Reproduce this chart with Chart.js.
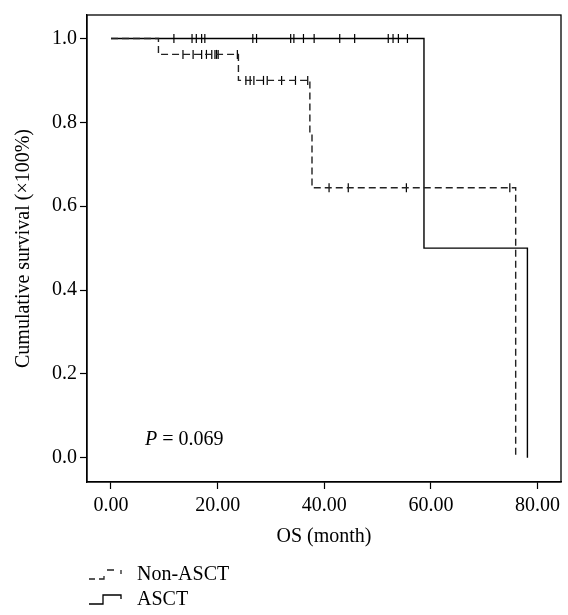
<!DOCTYPE html>
<html lang="en">
<head>
<meta charset="UTF-8">
<title>OS by ASCT</title>
<script src="https://cdn.jsdelivr.net/npm/chart.js"></script>
<style>
  body { margin: 0; background: #fff; }
  #wrap { width: 568px; height: 615px; }
</style>
</head>
<body>
<div id="wrap"><canvas id="km"></canvas></div>
<script>
// Kaplan-Meier step points (time in months, cumulative survival)
const asctTimes = [0, 58.7, 78.1];
const asctSurv = [1.0, 0.5, 0.0];
const nonTimes = [0, 8.9, 23.9, 37.3, 37.7, 75.9];
const nonSurv = [1.0, 0.962, 0.9, 0.773, 0.644, 0.0];

// censored observations
const asctCensor = [11.8, 15.2, 16.0, 17.0, 17.6, 26.6, 27.3, 33.7, 34.3, 36.1, 38.1,
                    42.9, 45.7, 52.0, 52.9, 53.9, 55.6];
const nonCensor = [13.5, 15.4, 17.0, 17.9, 18.9, 19.5, 19.8, 20.1, 23.7,
                   25.3, 26.1, 26.8, 28.6, 29.3, 32.0, 34.6, 36.9,
                   40.9, 44.5, 55.4, 74.8];

const xTicks = [0, 20, 40, 60, 80];
const yTicks = [0, 0.2, 0.4, 0.6, 0.8, 1.0];
const groupNames = ['Non-ASCT', 'ASCT'];
const pLabel = '0.069';

const serif = '"Liberation Serif", "DejaVu Serif", serif';
const fs = 20;

// survival value of a step curve at time t
function survAt(times, surv, t) {
  let s = surv[0];
  for (let i = 0; i < times.length; i++) {
    if (times[i] <= t) s = surv[i];
  }
  return s;
}

const toPts = (times, surv) => times.map((t, i) => ({ x: t, y: surv[i] }));
const censorPts = (c, times, surv) => c.map(t => ({ x: t, y: survAt(times, surv, t) }));

const decor = {
  id: 'decor',
  afterDraw(chart) {
    const { ctx, chartArea: a } = chart;
    ctx.save();
    // frame
    ctx.strokeStyle = '#000';
    ctx.lineWidth = 1.3;
    ctx.strokeRect(a.left, a.top, a.right - a.left, a.bottom - a.top);

    // p value
    ctx.fillStyle = '#000';
    ctx.textBaseline = 'middle';
    ctx.font = 'italic ' + fs + 'px ' + serif;
    ctx.fillText('P', 145, 440);
    const pw = ctx.measureText('P').width;
    ctx.font = fs + 'px ' + serif;
    ctx.fillText(' = ' + pLabel, 145 + pw, 440);

    // legend
    const ly = [575, 600];
    ctx.fillText(groupNames[0], 137, ly[0]);
    ctx.fillText(groupNames[1], 137, ly[1]);

    ctx.lineWidth = 1.3;
    ctx.strokeStyle = '#222';
    ctx.beginPath();
    ctx.moveTo(89, ly[0] + 4); ctx.lineTo(95, ly[0] + 4);
    ctx.moveTo(99, ly[0] + 4); ctx.lineTo(104, ly[0] + 4);
    ctx.lineTo(104, ly[0] + 1);
    ctx.moveTo(107, ly[0] - 5); ctx.lineTo(114, ly[0] - 5);
    ctx.moveTo(121, ly[0] - 5); ctx.lineTo(121, ly[0] - 1);
    ctx.stroke();

    ctx.strokeStyle = '#000';
    ctx.beginPath();
    ctx.moveTo(89, ly[1] + 4); ctx.lineTo(103, ly[1] + 4);
    ctx.lineTo(103, ly[1] - 5); ctx.lineTo(121, ly[1] - 5);
    ctx.lineTo(121, ly[1] - 1);
    ctx.stroke();
    ctx.restore();
  }
};

new Chart(document.getElementById('km'), {
  type: 'scatter',
  data: {
    datasets: [
      {
        label: groupNames[0],
        data: toPts(nonTimes, nonSurv),
        showLine: true,
        stepped: true,
        borderColor: '#222',
        borderWidth: 1.4,
        borderDash: [7, 4],
        pointRadius: 0
      },
      {
        label: groupNames[1],
        data: toPts(asctTimes, asctSurv),
        showLine: true,
        stepped: true,
        borderColor: '#000',
        borderWidth: 1.4,
        pointRadius: 0
      },
      {
        label: groupNames[0] + ' censored',
        data: censorPts(nonCensor, nonTimes, nonSurv),
        showLine: false,
        pointStyle: 'line',
        rotation: 90,
        pointRadius: 4.5,
        borderWidth: 1.2,
        borderColor: '#000'
      },
      {
        label: groupNames[1] + ' censored',
        data: censorPts(asctCensor, asctTimes, asctSurv),
        showLine: false,
        pointStyle: 'line',
        rotation: 90,
        pointRadius: 4.5,
        borderWidth: 1.2,
        borderColor: '#000'
      }
    ]
  },
  options: {
    responsive: true,
    maintainAspectRatio: false,
    animation: false,
    layout: { padding: { top: 7, right: 7, left: 0, bottom: 63 } },
    plugins: {
      legend: { display: false },
      tooltip: { enabled: false }
    },
    scales: {
      x: {
        type: 'linear',
        min: -4.5,
        max: 84.4,
        afterBuildTicks: s => { s.ticks = xTicks.map(v => ({ value: v })); },
        afterFit: s => { s.height = 70; },
        ticks: {
          callback: v => v.toFixed(2),
          color: '#000',
          padding: 5,
          maxRotation: 0,
          font: { family: serif, size: fs }
        },
        grid: { drawOnChartArea: false, tickLength: 7, color: '#000', tickWidth: 1.2 },
        border: { color: '#000', width: 1.3 },
        title: {
          display: true,
          text: 'OS (month)',
          color: '#000',
          padding: { top: 0, bottom: 3 },
          font: { family: serif, size: fs }
        }
      },
      y: {
        type: 'linear',
        min: -0.058,
        max: 1.056,
        afterBuildTicks: s => { s.ticks = yTicks.map(v => ({ value: v })); },
        afterFit: s => { s.width = 87; },
        ticks: {
          callback: v => v.toFixed(1),
          color: '#000',
          padding: 3,
          font: { family: serif, size: fs }
        },
        grid: { drawOnChartArea: false, tickLength: 7, color: '#000', tickWidth: 1.2 },
        border: { color: '#000', width: 1.3 },
        title: {
          display: true,
          text: 'Cumulative survival (×100%)',
          color: '#000',
          padding: { top: 12, bottom: 0 },
          font: { family: serif, size: fs }
        }
      }
    }
  },
  plugins: [decor]
});
</script>
</body>
</html>
